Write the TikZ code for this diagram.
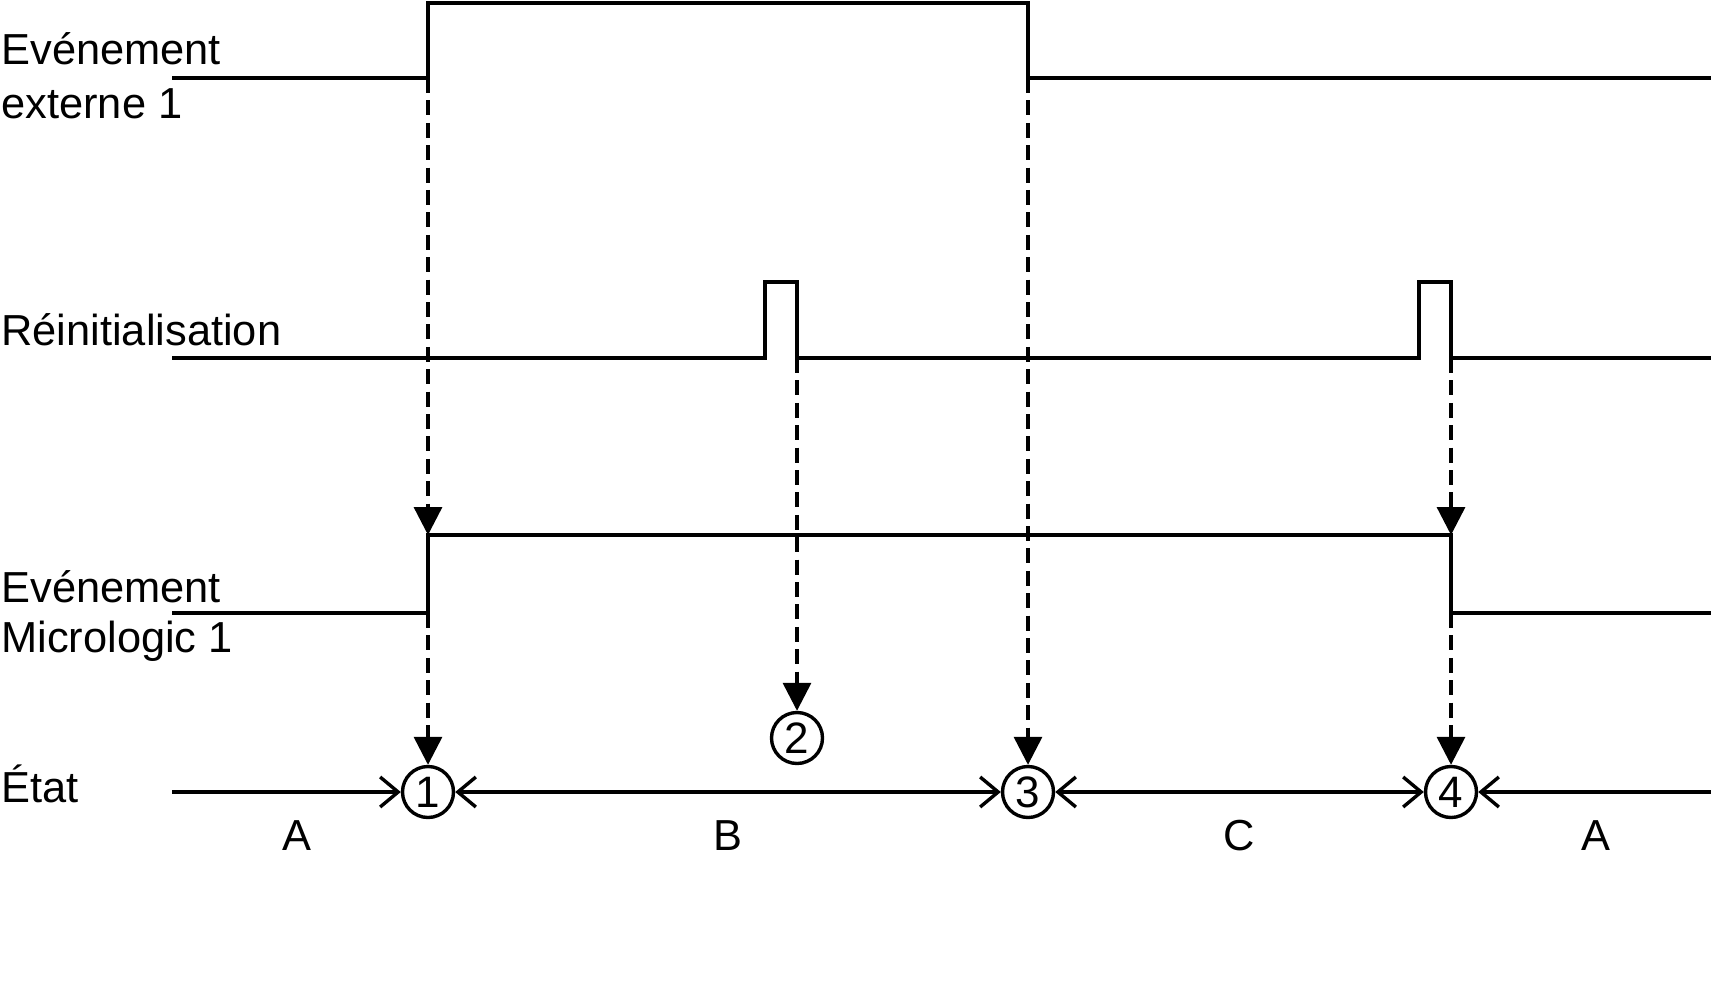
\documentclass[tikz,border=0pt]{standalone}
\usepackage{fontspec}
\setmainfont{Liberation Sans}
\usetikzlibrary{arrows.meta}
\tikzset{
  sig/.style={line width=1.7pt, line join=miter},
  cause/.style={line width=1.7pt, dash pattern=on 7.5pt off 3.7pt, -{Triangle[length=14pt,width=14pt]}},
  span/.style={line width=1.7pt},
  barb/.style={-{Straight Barb[length=9pt,width=15pt,line width=1.7pt]}},
  barbboth/.style={{Straight Barb[length=9pt,width=15pt,line width=1.7pt]}-{Straight Barb[length=9pt,width=15pt,line width=1.7pt]}},
  evt/.style={circle, draw, line width=1.7pt, minimum size=25.5pt, inner sep=0pt, font=\fontsize{22}{26}\selectfont},
  lbl/.style={anchor=base west, inner sep=0pt, font=\fontsize{21.7}{26}\selectfont},
  zone/.style={anchor=base, inner sep=0pt, font=\fontsize{21.7}{26}\selectfont}
}
\begin{document}
\begin{tikzpicture}[x=0.5pt,y=-0.5pt]
\useasboundingbox (0,0) rectangle (1711,984);
% labels
\node[lbl] (l1a) at (1,65) {Evénement};
\node[lbl] (l1b) at (1,119) {externe 1};
\node[lbl] (l2) at (1,345) {Réinitialisation};
\node[lbl] (l3a) at (1,602) {Evénement};
\node[lbl] (l3b) at (1,652) {Micrologic 1};
\node[lbl] (l4) at (1,802) {État};
% signal coordinates
\coordinate (e1s) at (172,78);
\coordinate (e1r) at (428,78);
\coordinate (e1f) at (1028,78);
\coordinate (e1e) at (1711,78);
\coordinate (r1s) at (172,358);
\coordinate (r1a) at (765,358);
\coordinate (r1b) at (797,358);
\coordinate (r1c) at (1419,358);
\coordinate (r1d) at (1451,358);
\coordinate (r1e) at (1711,358);
\coordinate (m1s) at (172,613);
\coordinate (m1a) at (428,613);
\coordinate (m1h) at (428,535);
\coordinate (m1k) at (1451,535);
\coordinate (m1b) at (1451,613);
\coordinate (m1e) at (1711,613);
\coordinate (ets) at (172,792);
\coordinate (ete) at (1711,792);
% signals
\draw[sig] (e1s) -- (e1r) -- (428,3) -- (1028,3) -- (e1f) -- (e1e);
\draw[sig] (r1s) -- (r1a) -- (765,282) -- (797,282) -- (r1b) -- (r1c) -- (1419,282) -- (1451,282) -- (r1d) -- (r1e);
\draw[sig] (m1s) -- (m1a) -- (m1h) -- (m1k) -- (m1b) -- (m1e);
% event circles
\node[evt] (c1) at (428,792) {1};
\node[evt] (c2) at (797,738) {2};
\node[evt] (c3) at (1028,792) {3};
\node[evt] (c4) at (1451,792) {4};
% causal dashed arrows
\draw[cause] (e1r) -- (m1h);
\draw[cause] (m1a) -- (c1.north);
\draw[cause] (r1b) -- (c2.north);
\draw[cause] (e1f) -- (c3.north);
\draw[cause] (r1d) -- (m1k);
\draw[cause] (m1b) -- (c4.north);
% state line
\draw[span,barb] (ets) -- (c1);
\draw[span,barbboth] (c1) -- (c3);
\draw[span,barbboth] (c3) -- (c4);
\draw[span,barb] (ete) -- (c4);
% zones
\node[zone] (za) at (297,850) {A};
\node[zone] (zb) at (728,850) {B};
\node[zone] (zc) at (1239,850) {C};
\node[zone] (zd) at (1596,850) {A};
\end{tikzpicture}
\end{document}
